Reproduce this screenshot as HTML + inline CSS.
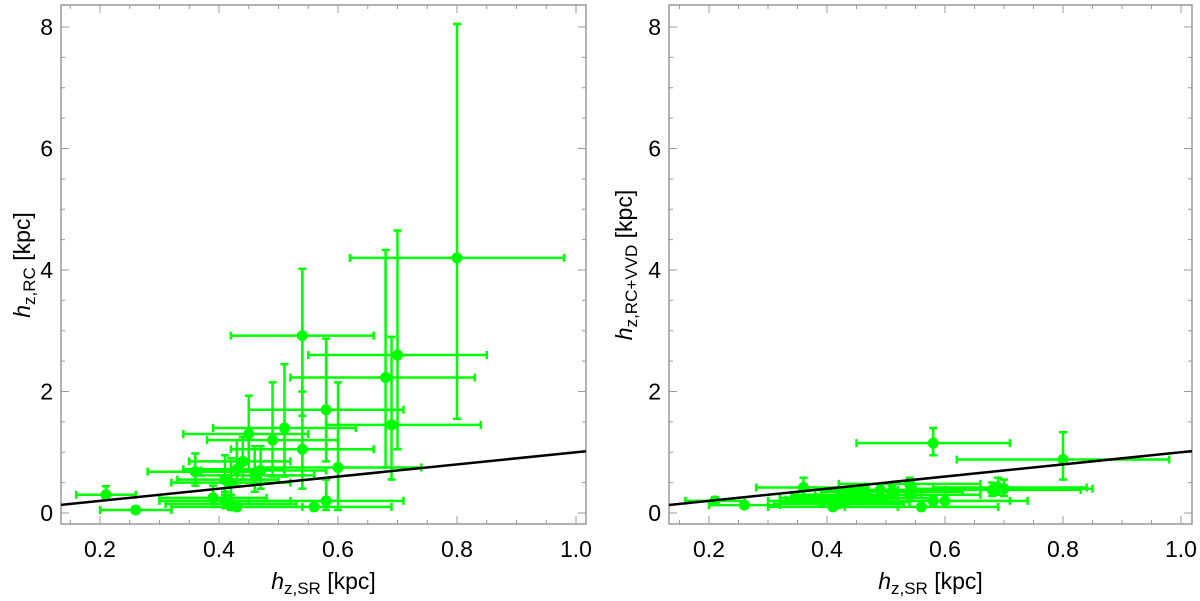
<!DOCTYPE html>
<html><head><meta charset="utf-8"><style>
body{margin:0;background:#fff;}
svg{display:block;font-family:"Liberation Sans",sans-serif;}
</style></head><body>
<svg id="chart" width="1200" height="601"></svg>
<script>
const xs   =[0.80,0.70,0.68,0.69,0.54,0.58,0.51,0.49,0.45,0.54,0.60,0.36,0.44,0.43,0.46,0.47,0.41,0.42,0.21,0.26,0.58,0.56,0.42,0.41,0.39,0.43];
const xLo  =[0.62,0.55,0.52,0.58,0.42,0.45,0.39,0.38,0.34,0.42,0.46,0.28,0.35,0.34,0.36,0.37,0.33,0.32,0.16,0.20,0.45,0.43,0.31,0.30,0.30,0.32];
const xHi  =[0.98,0.85,0.83,0.84,0.66,0.71,0.63,0.60,0.55,0.66,0.74,0.47,0.52,0.51,0.56,0.58,0.50,0.52,0.26,0.32,0.71,0.69,0.53,0.52,0.48,0.54];
const yRC  =[4.2,2.6,2.23,1.45,2.92,1.7,1.4,1.2,1.3,1.05,0.75,0.68,0.85,0.72,0.62,0.7,0.55,0.5,0.3,0.05,0.2,0.1,0.15,0.2,0.25,0.1];
const yRCLo=[1.55,1.05,0.75,0.55,1.6,0.85,0.6,0.6,0.7,0.4,0.05,0.45,0.55,0.45,0.35,0.4,0.3,0.25,0.22,0,0.05,0.05,0.05,0.08,0.1,0.05];
const yRCHi=[8.05,4.65,4.33,2.9,4.02,2.87,2.45,2.15,1.93,2.0,2.15,0.98,1.25,1.2,1.1,1.1,0.95,0.9,0.44,0.1,0.55,0.15,0.3,0.35,0.45,0.2];
const yVV  =[0.88,0.40,0.38,0.42,0.48,1.15,0.35,0.38,0.3,0.3,0.2,0.42,0.3,0.28,0.3,0.25,0.22,0.25,0.2,0.13,0.2,0.1,0.15,0.1,0.2,0.18];
const yVVLo=[0.55,0.28,0.28,0.3,0.38,0.95,0.25,0.28,0.2,0.2,0.1,0.3,0.22,0.2,0.22,0.18,0.15,0.18,0.15,0.08,0.12,0.06,0.1,0.06,0.14,0.12];
const yVVHi=[1.33,0.55,0.5,0.58,0.58,1.4,0.45,0.48,0.4,0.4,0.3,0.58,0.4,0.36,0.4,0.35,0.3,0.33,0.26,0.18,0.28,0.14,0.2,0.15,0.28,0.25];
const xTicks=[0.2,0.4,0.6,0.8,1.0];
const xTickLabels=["0.2","0.4","0.6","0.8","1.0"];
const yTicks=[0,2,4,6,8];
const yTickLabels=["0","2","4","6","8"];
const lineX=[0.13,1.02];

const NS="http://www.w3.org/2000/svg";
const svg=document.getElementById('chart');
function mk(tag,attrs,parent){const e=document.createElementNS(NS,tag);for(const k in attrs)e.setAttribute(k,attrs[k]);(parent||svg).appendChild(e);return e;}

const panels=[
 {name:'left',left:61,right:586,top:5,bottom:524,x02:100,ppu:595,y:yRC,yl:yRCLo,yh:yRCHi,sub:'z,RC',lx:30},
 {name:'right',left:669,right:1192,top:5,bottom:524,x02:709,ppu:590,y:yVV,yl:yVVLo,yh:yVVHi,sub:'z,RC+VVD',lx:632}
];
panels.forEach(p=>{
 const X=v=>p.x02+(v-0.2)*p.ppu;
 const Y=v=>513-v*60.75;
 const g=mk('g',{});
 
 
 const cp=mk('clipPath',{id:'clip-'+p.name},g);
 mk('rect',{x:p.left,y:p.top,width:p.right-p.left,height:p.bottom-p.top},cp);
 const tg=mk('g',{stroke:'#999','stroke-width':1},g);
 
 
 for(let v=0.15;v<=1.01;v+=0.05){
   const major=Math.abs(v*5-Math.round(v*5))<1e-6; const L=major?8:4; const x=X(v);
   if(x<p.left||x>p.right)continue;
   mk('line',{x1:x,x2:x,y1:p.bottom,y2:p.bottom-L},tg);
   mk('line',{x1:x,x2:x,y1:p.top,y2:p.top+L},tg);
 }
 for(let v=0;v<=8.01;v+=0.5){
   const major=Math.abs(v/2-Math.round(v/2))<1e-6; const L=major?8:4; const y=Y(v);
   mk('line',{x1:p.left,x2:p.left+L,y1:y,y2:y},tg);
   mk('line',{x1:p.right,x2:p.right-L,y1:y,y2:y},tg);
 }
 const fr=mk('rect',{x:p.left,y:p.top,width:p.right-p.left,height:p.bottom-p.top,fill:'none',stroke:'#999','stroke-width':1.5},g);
 
 
 xTicks.forEach((v,i)=>{
   const t=mk('text',{x:X(v),y:557,'font-size':23,'text-anchor':'middle',fill:'#000'},g);
   t.textContent=xTickLabels[i];
   
   
 });
 yTicks.forEach((v,i)=>{
   const t=mk('text',{x:p.left-8,y:Y(v)+8,'font-size':23,'text-anchor':'end',fill:'#000'},g);
   t.textContent=yTickLabels[i];
   
   
 });
 const xt=mk('text',{x:(p.left+p.right)/2,y:589,'font-size':23,'text-anchor':'middle',fill:'#000'},g);
 xt.innerHTML='<tspan font-style="italic">h</tspan><tspan font-size="17" dy="5">z,SR</tspan><tspan dy="-5"> [kpc]</tspan>';
 
 
 const yt=mk('text',{x:0,y:0,'font-size':23,'text-anchor':'middle',fill:'#000',transform:`translate(${p.lx},265) rotate(-90)`},g);
 yt.innerHTML='<tspan font-style="italic">h</tspan><tspan font-size="17" dy="5">'+p.sub+'</tspan><tspan dy="-5"> [kpc]</tspan>';
 
 
 const dg=mk('g',{'clip-path':'url(#clip-'+p.name+')'},g);
 
 
 xs.forEach((xv,i)=>{
   const pg=mk('g',{stroke:'#00ff00','stroke-width':2.5,fill:'#00ff00'},dg);
   
   
   const cx=X(xv),cy=Y(p.y[i]);
   mk('line',{x1:X(xLo[i]),x2:X(xHi[i]),y1:cy,y2:cy},pg);
   mk('line',{x1:X(xLo[i]),x2:X(xLo[i]),y1:cy-4,y2:cy+4},pg);
   mk('line',{x1:X(xHi[i]),x2:X(xHi[i]),y1:cy-4,y2:cy+4},pg);
   mk('line',{x1:cx,x2:cx,y1:Y(p.yl[i]),y2:Y(p.yh[i])},pg);
   mk('line',{x1:cx-4,x2:cx+4,y1:Y(p.yl[i]),y2:Y(p.yl[i])},pg);
   mk('line',{x1:cx-4,x2:cx+4,y1:Y(p.yh[i]),y2:Y(p.yh[i])},pg);
   mk('circle',{cx:cx,cy:cy,r:5.5,stroke:'none'},pg);
 });
 const ln=mk('line',{x1:X(lineX[0]),y1:Y(lineX[0]),x2:X(lineX[1]),y2:Y(lineX[1]),stroke:'#000','stroke-width':2.5},dg);
 
 
});
</script>
</body></html>
